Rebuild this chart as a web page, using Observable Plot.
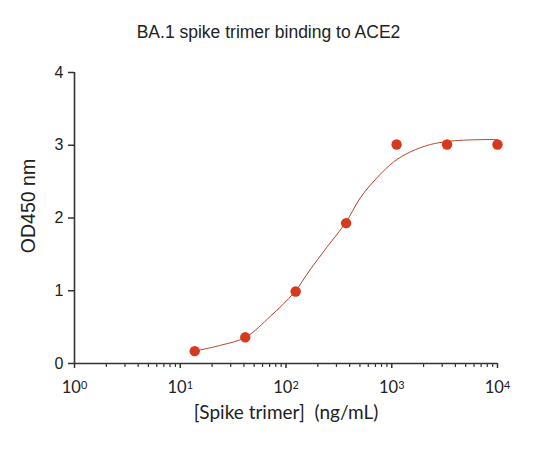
<!DOCTYPE html>
<html>
<head>
<meta charset="utf-8">
<script src="https://cdn.jsdelivr.net/npm/d3@7"></script>
<script src="https://cdn.jsdelivr.net/npm/@observablehq/plot@0.6"></script>
<style>
  html, body { margin: 0; padding: 0; background: #fff; }
  #title { width: 537px; height: 50px; box-sizing: border-box; padding-top: 23px; text-align: center;
           font: 17.5px "Liberation Sans", Arial, sans-serif; line-height: 18px; color: #222; }
</style>
</head>
<body>
<div id="title">BA.1 spike trimer binding to ACE2</div>
<div id="chart"></div>
<script>
// Measured points (3-fold dilution series, ng/mL) and OD450
const conc = [13.7, 41.2, 123.5, 370.4, 1111, 3333, 10000];
const od = [0.17, 0.36, 0.99, 1.93, 3.01, 3.01, 3.01];

// Fitted curve
const curveConc = [13.6, 24, 41.4, 71.3, 120, 171, 247, 365, 506, 733, 1040, 1503, 2325, 3296, 4769, 10000];
const curveOD   = [0.17, 0.25, 0.36, 0.65, 0.98, 1.30, 1.61, 1.93, 2.28, 2.56, 2.77, 2.91, 3.01, 3.05, 3.07, 3.08];

// Axis ticks
const majorTicks = [1, 10, 100, 1000, 10000];
const tickBase = "10";
const tickExponents = ["0", "1", "2", "3", "4"];
const decades = [1, 10, 100, 1000];
const multipliers = [2, 3, 4, 5, 6, 7, 8, 9];
const minorTicks = decades.flatMap(d => multipliers.map(m => m * d));
const yTicks = [0, 1, 2, 3, 4];

const points = conc.map((c, i) => ({c, v: od[i]}));
const curve = curveConc.map((c, i) => ({c, v: curveOD[i]}));

const axisColor = "#333";
const latoStack = "Lato, 'Liberation Sans', sans-serif";
const plot = Plot.plot({
  width: 537,
  height: 419,
  marginLeft: 74,
  marginRight: 40,
  marginTop: 22,
  marginBottom: 106,
  style: {fontFamily: "'Liberation Sans', Arial, sans-serif", color: "#222", background: "#fff"},
  x: {type: "log", domain: [1, 10000]},
  y: {domain: [0, 4]},
  marks: [
    Plot.axisY({ticks: yTicks, tickSize: 6, tickPadding: 5, fontSize: 16, label: null,
                tickFormat: d => String(d), stroke: axisColor, strokeWidth: 1.5}),
    Plot.axisX({ticks: minorTicks, tickSize: 4, tickFormat: () => "", label: null, stroke: axisColor, strokeWidth: 1.2}),
    Plot.axisX({ticks: majorTicks, tickSize: 5, tickPadding: 13, fontSize: 16.5, label: null,
                tickFormat: d => tickBase + "^" + tickExponents[majorTicks.indexOf(d)],
                stroke: axisColor, strokeWidth: 1.5, fontFamily: latoStack}),
    Plot.ruleY([0], {x1: 1, x2: 10000, stroke: axisColor, strokeWidth: 1.6}),
    Plot.ruleX([1], {y1: 0, y2: 4, stroke: axisColor, strokeWidth: 1.6}),
    Plot.line(curve, {x: "c", y: "v", curve: "catmull-rom", stroke: "#b8432c", strokeWidth: 1}),
    Plot.dot(points, {x: "c", y: "v", r: 5.2, fill: "#d6391d", stroke: "none"}),
    Plot.text(["[Spike trimer]  (ng/mL)"], {text: d => d, frameAnchor: "bottom", lineAnchor: "middle",
                textAnchor: "middle", dy: 49, fontSize: 19, fontFamily: latoStack, fill: "#222"}),
    Plot.text(["OD450 nm"], {text: d => d, frameAnchor: "left", textAnchor: "middle", lineAnchor: "middle",
                dx: -46, dy: -12, rotate: -90, fontSize: 19.5, fill: "#222"})
  ]
});
// Render exponents as raised superscripts
plot.querySelectorAll("text").forEach(t => {
  const s = t.textContent;
  if (/^10\^\d$/.test(s)) {
    const exp = s.split("^")[1];
    t.textContent = tickBase;
    const ts = document.createElementNS("http://www.w3.org/2000/svg", "tspan");
    ts.setAttribute("dy", "-0.42em");
    ts.setAttribute("font-size", "0.66em");
    ts.textContent = exp;
    t.appendChild(ts);
  }
});
document.getElementById("chart").appendChild(plot);
</script>
</body>
</html>
